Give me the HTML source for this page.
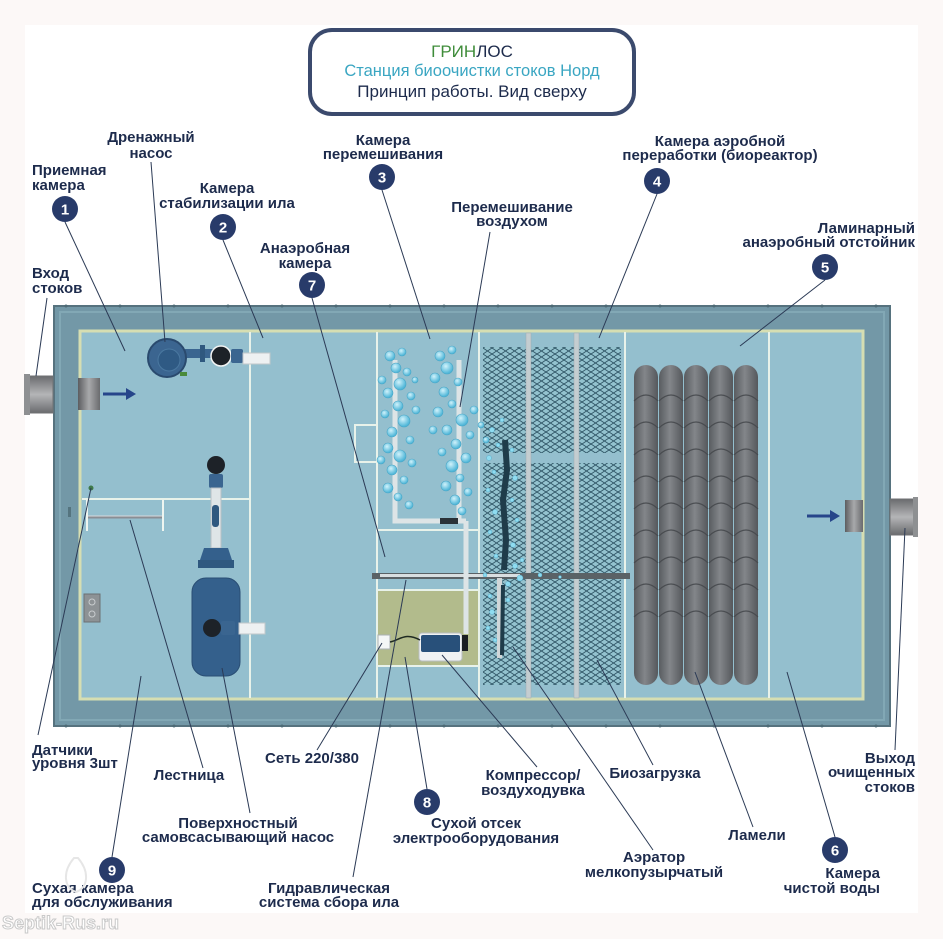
<!DOCTYPE html>
<html><head><meta charset="utf-8">
<style>
html,body{margin:0;padding:0;background:#fcf8f7;}
svg{display:block;}
.t{font-family:"Liberation Sans","Noto Sans CJK SC",sans-serif;font-weight:bold;font-size:15px;fill:#1d2b4c;}
.m{text-anchor:middle;}
.e{text-anchor:end;}
.ld{stroke:#2b3a55;stroke-width:1;fill:none;}
.pt{stroke:#e8f2ea;stroke-width:2;fill:none;}
</style></head>
<body>
<svg width="943" height="939" viewBox="0 0 943 939" xmlns="http://www.w3.org/2000/svg">
<defs>
<pattern id="mesh" x="483" y="0" width="9" height="6" patternUnits="userSpaceOnUse">
<rect width="9" height="6" fill="#93c2ce"/>
<path d="M0 0 L4.5 3 L9 0 M0 6 L4.5 3 L9 6" stroke="#2d5263" stroke-width="0.9" fill="none"/>
</pattern>
<linearGradient id="lam" x1="0" x2="1" y1="0" y2="0">
<stop offset="0" stop-color="#595c60"/><stop offset="0.45" stop-color="#83868a"/><stop offset="1" stop-color="#55585c"/>
</linearGradient>
<linearGradient id="grayp" x1="0" x2="1" y1="0" y2="0">
<stop offset="0" stop-color="#5c5d60"/><stop offset="0.5" stop-color="#a8a9ab"/><stop offset="1" stop-color="#6a6b6e"/>
</linearGradient>
<linearGradient id="grayv" x1="0" x2="0" y1="0" y2="1">
<stop offset="0" stop-color="#6a6b6e"/><stop offset="0.5" stop-color="#b4b5b7"/><stop offset="1" stop-color="#6a6b6e"/>
</linearGradient>
<radialGradient id="bub" cx="0.4" cy="0.35" r="0.6">
<stop offset="0" stop-color="#d0f2fb"/><stop offset="1" stop-color="#4fb6d8"/>
</radialGradient>
</defs>

<rect x="0" y="0" width="943" height="939" fill="#fcf8f7"/>
<rect x="25" y="25" width="893" height="888" fill="#ffffff"/>

<!-- title box -->
<rect x="310" y="30" width="324" height="84" rx="22" ry="22" fill="#ffffff" stroke="#3b4a6d" stroke-width="4"/>
<text x="472" y="57" class="m" style="font-family:'Liberation Sans',sans-serif;font-size:17px;fill:#1d2b4c"><tspan fill="#3f8c3a">ГРИН</tspan>ЛОС</text>
<text x="472" y="76" class="m" style="font-family:'Liberation Sans',sans-serif;font-size:16.5px;fill:#3aa6c2">Станция биоочистки стоков Норд</text>
<text x="472" y="97" class="m" style="font-family:'Liberation Sans',sans-serif;font-size:17px;fill:#1d2b4c">Принцип работы. Вид сверху</text>

<!-- ===== TANK ===== -->
<rect x="54" y="306" width="836" height="420" fill="#7398a7" stroke="#56727e" stroke-width="2"/>
<rect x="60" y="312" width="824" height="408" fill="none" stroke="#82a8b5" stroke-width="2"/>
<g fill="#4d6a75">
<circle cx="66" cy="306" r="1.5"/><circle cx="120" cy="306" r="1.5"/><circle cx="174" cy="306" r="1.5"/><circle cx="228" cy="306" r="1.5"/><circle cx="282" cy="306" r="1.5"/><circle cx="336" cy="306" r="1.5"/><circle cx="390" cy="306" r="1.5"/><circle cx="444" cy="306" r="1.5"/><circle cx="498" cy="306" r="1.5"/><circle cx="552" cy="306" r="1.5"/><circle cx="606" cy="306" r="1.5"/><circle cx="660" cy="306" r="1.5"/><circle cx="714" cy="306" r="1.5"/><circle cx="768" cy="306" r="1.5"/><circle cx="822" cy="306" r="1.5"/><circle cx="876" cy="306" r="1.5"/>
<circle cx="66" cy="726" r="1.5"/><circle cx="120" cy="726" r="1.5"/><circle cx="174" cy="726" r="1.5"/><circle cx="228" cy="726" r="1.5"/><circle cx="282" cy="726" r="1.5"/><circle cx="336" cy="726" r="1.5"/><circle cx="390" cy="726" r="1.5"/><circle cx="444" cy="726" r="1.5"/><circle cx="498" cy="726" r="1.5"/><circle cx="552" cy="726" r="1.5"/><circle cx="606" cy="726" r="1.5"/><circle cx="660" cy="726" r="1.5"/><circle cx="714" cy="726" r="1.5"/><circle cx="768" cy="726" r="1.5"/><circle cx="822" cy="726" r="1.5"/><circle cx="876" cy="726" r="1.5"/>
</g>
<rect x="80" y="331" width="783" height="368" fill="#94bfce" stroke="#d6deb2" stroke-width="3"/>

<rect x="378" y="591" width="100" height="74" fill="#b2bb8c"/>

<rect x="483" y="347" width="138" height="106" fill="url(#mesh)"/>
<rect x="483" y="463" width="138" height="222" fill="url(#mesh)"/>

<g class="pt">
<line x1="250" y1="332" x2="250" y2="698"/>
<line x1="82" y1="499" x2="250" y2="499"/>
<line x1="377" y1="332" x2="377" y2="698"/>
<line x1="377" y1="530" x2="479" y2="530"/>
<line x1="377" y1="590" x2="479" y2="590"/>
<line x1="377" y1="666" x2="479" y2="666"/>
<line x1="479" y1="332" x2="479" y2="698"/>
<line x1="625" y1="332" x2="625" y2="698"/>
<line x1="769" y1="332" x2="769" y2="698"/>
<rect x="355" y="425" width="22" height="37"/>
</g>
<line x1="87" y1="500" x2="87" y2="531" stroke="#eef5f0" stroke-width="2"/>
<line x1="163" y1="500" x2="163" y2="531" stroke="#eef5f0" stroke-width="2"/>
<line x1="88" y1="517" x2="162" y2="517" stroke="#8a8e95" stroke-width="3"/>
<line x1="88" y1="516" x2="162" y2="516" stroke="#d6dadd" stroke-width="1"/>
<circle cx="91" cy="488" r="2.5" fill="#3f7a4a"/>
<rect x="84" y="594" width="16" height="28" fill="#8d9295" stroke="#6b7073"/>
<circle cx="92" cy="602" r="3" fill="none" stroke="#c8ccce"/>
<circle cx="92" cy="614" r="3" fill="none" stroke="#c8ccce"/>
<rect x="68" y="507" width="3" height="10" fill="#55747f"/>

<rect x="526" y="333" width="5" height="365" fill="#c4cdd0" stroke="#a0aab0" stroke-width="0.5"/>
<rect x="574" y="333" width="5" height="365" fill="#c4cdd0" stroke="#a0aab0" stroke-width="0.5"/>
<rect x="372" y="573" width="258" height="6" fill="#5a6266"/>
<rect x="380" y="574" width="140" height="3" fill="#d9dfe1"/>
<path d="M505 440 L507 470 L503 500 L506 540 L504 570" stroke="#1f3c4a" stroke-width="6" fill="none"/>
<rect x="497" y="578" width="5" height="80" fill="#d0d6d8"/>
<path d="M503 585 L502 655" stroke="#1f3c4a" stroke-width="4" fill="none"/>

<g stroke="#dde4e6" stroke-width="5" fill="none">
<path d="M395 360 L395 521 L466 521"/>
<path d="M459 360 L459 521"/>
<path d="M466 521 L466 634"/>
</g>
<rect x="440" y="518" width="18" height="6" fill="#2a3238"/>

<rect x="419" y="633" width="43" height="28" rx="3" fill="#f0f2f3" stroke="#b8bec2"/>
<rect x="421" y="635" width="39" height="17" rx="2" fill="#28507a"/>
<rect x="462" y="635" width="6" height="16" fill="#1a1e22"/>
<rect x="378" y="635" width="12" height="14" fill="#f4f6f6" stroke="#aab0b3"/>
<path d="M390 642 C400 640 405 632 420 640" stroke="#1f2a22" stroke-width="1.5" fill="none"/>

<g fill="url(#bub)" stroke="#4aa6c6" stroke-width="0.6">
<circle cx="390" cy="356" r="5"/><circle cx="402" cy="352" r="4"/><circle cx="396" cy="368" r="5"/><circle cx="407" cy="372" r="4"/><circle cx="400" cy="384" r="6"/><circle cx="388" cy="393" r="5"/><circle cx="411" cy="396" r="4"/><circle cx="398" cy="406" r="5"/><circle cx="385" cy="414" r="4"/><circle cx="404" cy="421" r="6"/><circle cx="392" cy="432" r="5"/><circle cx="410" cy="440" r="4"/><circle cx="388" cy="448" r="5"/><circle cx="400" cy="456" r="6"/><circle cx="412" cy="463" r="4"/><circle cx="392" cy="470" r="5"/><circle cx="404" cy="480" r="4"/><circle cx="388" cy="488" r="5"/><circle cx="398" cy="497" r="4"/><circle cx="409" cy="505" r="4"/><circle cx="382" cy="380" r="4"/><circle cx="416" cy="410" r="4"/><circle cx="381" cy="460" r="4"/><circle cx="415" cy="380" r="3"/>
<circle cx="440" cy="356" r="5"/><circle cx="452" cy="350" r="4"/><circle cx="447" cy="368" r="6"/><circle cx="435" cy="378" r="5"/><circle cx="458" cy="382" r="4"/><circle cx="444" cy="392" r="5"/><circle cx="452" cy="404" r="4"/><circle cx="438" cy="412" r="5"/><circle cx="462" cy="420" r="6"/><circle cx="447" cy="430" r="5"/><circle cx="470" cy="435" r="4"/><circle cx="456" cy="444" r="5"/><circle cx="442" cy="452" r="4"/><circle cx="466" cy="458" r="5"/><circle cx="452" cy="466" r="6"/><circle cx="460" cy="478" r="4"/><circle cx="446" cy="486" r="5"/><circle cx="468" cy="492" r="4"/><circle cx="455" cy="500" r="5"/><circle cx="462" cy="511" r="4"/><circle cx="474" cy="410" r="4"/><circle cx="481" cy="425" r="3"/><circle cx="486" cy="440" r="3"/><circle cx="433" cy="430" r="4"/>
</g>
<g fill="#8fdcf0" stroke="#4aa6c6" stroke-width="0.4">
<circle cx="492" cy="430" r="2.5"/><circle cx="498" cy="445" r="2"/><circle cx="489" cy="458" r="2.5"/><circle cx="512" cy="450" r="2"/><circle cx="494" cy="472" r="2"/><circle cx="515" cy="478" r="2.5"/><circle cx="488" cy="490" r="2"/><circle cx="512" cy="500" r="2"/><circle cx="495" cy="512" r="2.5"/><circle cx="517" cy="520" r="2"/><circle cx="490" cy="532" r="2"/><circle cx="513" cy="545" r="2.5"/><circle cx="496" cy="556" r="2"/><circle cx="515" cy="566" r="2.5"/><circle cx="520" cy="578" r="3"/><circle cx="508" cy="584" r="2.5"/><circle cx="490" cy="596" r="2"/><circle cx="492" cy="612" r="2.5"/><circle cx="488" cy="628" r="2"/><circle cx="495" cy="640" r="2"/><circle cx="508" cy="600" r="2"/><circle cx="485" cy="575" r="2"/><circle cx="522" cy="560" r="2"/><circle cx="540" cy="575" r="2"/><circle cx="560" cy="577" r="1.5"/><circle cx="502" cy="420" r="2"/>
</g>

<g>
<rect x="634" y="365" width="24" height="320" rx="12" fill="url(#lam)"/>
<rect x="659" y="365" width="24" height="320" rx="12" fill="url(#lam)"/>
<rect x="684" y="365" width="24" height="320" rx="12" fill="url(#lam)"/>
<rect x="709" y="365" width="24" height="320" rx="12" fill="url(#lam)"/>
<rect x="734" y="365" width="24" height="320" rx="12" fill="url(#lam)"/>
</g>
<g stroke="#44474b" stroke-width="1.2" fill="none" opacity="0.85">
<path d="M634 401 Q646 389 658 401 M659 401 Q671 389 683 401 M684 401 Q696 389 708 401 M709 401 Q721 389 733 401 M734 401 Q746 389 758 401"/>
<path d="M634 428 Q646 416 658 428 M659 428 Q671 416 683 428 M684 428 Q696 416 708 428 M709 428 Q721 416 733 428 M734 428 Q746 416 758 428"/>
<path d="M634 455 Q646 443 658 455 M659 455 Q671 443 683 455 M684 455 Q696 443 708 455 M709 455 Q721 443 733 455 M734 455 Q746 443 758 455"/>
<path d="M634 482 Q646 470 658 482 M659 482 Q671 470 683 482 M684 482 Q696 470 708 482 M709 482 Q721 470 733 482 M734 482 Q746 470 758 482"/>
<path d="M634 509 Q646 497 658 509 M659 509 Q671 497 683 509 M684 509 Q696 497 708 509 M709 509 Q721 497 733 509 M734 509 Q746 497 758 509"/>
<path d="M634 536 Q646 524 658 536 M659 536 Q671 524 683 536 M684 536 Q696 524 708 536 M709 536 Q721 524 733 536 M734 536 Q746 524 758 536"/>
<path d="M634 563 Q646 551 658 563 M659 563 Q671 551 683 563 M684 563 Q696 551 708 563 M709 563 Q721 551 733 563 M734 563 Q746 551 758 563"/>
<path d="M634 590 Q646 578 658 590 M659 590 Q671 578 683 590 M684 590 Q696 578 708 590 M709 590 Q721 578 733 590 M734 590 Q746 578 758 590"/>
<path d="M634 617 Q646 605 658 617 M659 617 Q671 605 683 617 M684 617 Q696 605 708 617 M709 617 Q721 605 733 617 M734 617 Q746 605 758 617"/>
</g>

<!-- drain pump -->
<rect x="185" y="349" width="32" height="9" fill="#3a6590"/>
<rect x="200" y="345" width="5" height="17" fill="#2f587f"/>
<circle cx="167" cy="358" r="19" fill="#3b6590" stroke="#2a4a6e" stroke-width="2"/>
<circle cx="169" cy="360" r="11" fill="#2f5a84" stroke="#4a78a0" stroke-width="1"/>
<rect x="180" y="372" width="7" height="4" fill="#4a8a3a"/>
<circle cx="221" cy="356" r="10" fill="#1d2228" stroke="#f2f4f4" stroke-width="1.5"/>
<rect x="231" y="349" width="12" height="14" rx="2" fill="#3a6590"/>
<rect x="243" y="353" width="27" height="11" fill="#eef1f2" stroke="#c2c8cb"/>

<!-- surface pump -->
<circle cx="216" cy="465" r="9" fill="#1d2228"/>
<rect x="209" y="474" width="14" height="14" rx="2" fill="#3a6590"/>
<rect x="211" y="488" width="10" height="60" fill="#dfe5e7" stroke="#b7c0c4"/>
<rect x="212" y="505" width="7" height="22" rx="3" fill="#2f587f"/>
<path d="M200 560 L204 548 L228 548 L232 560 Z" fill="#34608c"/>
<rect x="198" y="560" width="36" height="8" fill="#2f587f"/>
<rect x="192" y="578" width="48" height="98" rx="14" fill="#34608c" stroke="#2a4e74"/>
<circle cx="212" cy="628" r="9" fill="#1d2228"/>
<rect x="221" y="621" width="14" height="14" rx="2" fill="#3a6590"/>
<rect x="239" y="623" width="26" height="11" fill="#eef1f2" stroke="#c2c8cb"/>

<!-- inlet -->
<rect x="28" y="376" width="25" height="37" fill="url(#grayv)" stroke="#707274"/>
<rect x="24" y="374" width="6" height="41" fill="#8e9092"/>
<rect x="78" y="378" width="22" height="32" fill="url(#grayp)"/>
<line x1="103" y1="394" x2="128" y2="394" stroke="#26458a" stroke-width="3"/>
<path d="M126 388 L136 394 L126 400 Z" fill="#26458a"/>

<!-- outlet -->
<rect x="845" y="500" width="18" height="32" fill="url(#grayp)"/>
<rect x="890" y="499" width="26" height="36" fill="url(#grayv)" stroke="#707274"/>
<rect x="913" y="497" width="5" height="40" fill="#8e9092"/>
<line x1="807" y1="516" x2="832" y2="516" stroke="#26458a" stroke-width="3"/>
<path d="M830 510 L840 516 L830 522 Z" fill="#26458a"/>

<!-- leader lines -->
<g class="ld">
<line x1="65" y1="222" x2="125" y2="351"/>
<line x1="151" y1="162" x2="165" y2="342"/>
<line x1="223" y1="240" x2="263" y2="338"/>
<line x1="312" y1="298" x2="385" y2="557"/>
<line x1="382" y1="190" x2="430" y2="339"/>
<line x1="490" y1="232" x2="460" y2="407"/>
<line x1="657" y1="194" x2="599" y2="338"/>
<line x1="825" y1="280" x2="740" y2="346"/>
<line x1="47" y1="298" x2="36" y2="376"/>
<line x1="38" y1="735" x2="91" y2="488"/>
<line x1="130" y1="520" x2="203" y2="768"/>
<line x1="222" y1="668" x2="250" y2="813"/>
<line x1="112" y1="857" x2="141" y2="676"/>
<line x1="317" y1="750" x2="382" y2="643"/>
<line x1="353" y1="877" x2="406" y2="580"/>
<line x1="427" y1="789" x2="405" y2="657"/>
<line x1="537" y1="767" x2="442" y2="655"/>
<line x1="653" y1="850" x2="513" y2="647"/>
<line x1="653" y1="765" x2="597" y2="660"/>
<line x1="753" y1="827" x2="695" y2="672"/>
<line x1="835" y1="837" x2="787" y2="672"/>
<line x1="895" y1="750" x2="905" y2="528"/>
</g>

<g fill="#283b6a">
<circle cx="65" cy="209" r="13"/><circle cx="223" cy="227" r="13"/><circle cx="382" cy="177" r="13"/><circle cx="657" cy="181" r="13"/><circle cx="825" cy="267" r="13"/><circle cx="312" cy="285" r="13"/><circle cx="835" cy="850" r="13"/><circle cx="427" cy="802" r="13"/><circle cx="112" cy="870" r="13"/>
</g>
<g style="font-family:'Liberation Sans',sans-serif;font-weight:bold;font-size:15px;fill:#ffffff;text-anchor:middle">
<text x="65" y="214.5">1</text><text x="223" y="232.5">2</text><text x="382" y="182.5">3</text><text x="657" y="186.5">4</text><text x="825" y="272.5">5</text><text x="312" y="290.5">7</text><text x="835" y="855.5">6</text><text x="427" y="807.5">8</text><text x="112" y="875.5">9</text>
</g>

<g class="t">
<text x="151" y="142" class="m">Дренажный</text>
<text x="151" y="158" class="m">насос</text>
<text x="32" y="175">Приемная</text>
<text x="32" y="190">камера</text>
<text x="227" y="193" class="m">Камера</text>
<text x="227" y="208" class="m">стабилизации ила</text>
<text x="305" y="253" class="m">Анаэробная</text>
<text x="305" y="268" class="m">камера</text>
<text x="32" y="278">Вход</text>
<text x="32" y="293">стоков</text>
<text x="383" y="145" class="m">Камера</text>
<text x="383" y="159" class="m">перемешивания</text>
<text x="512" y="212" class="m">Перемешивание</text>
<text x="512" y="226" class="m">воздухом</text>
<text x="720" y="146" class="m">Камера аэробной</text>
<text x="720" y="160" class="m">переработки (биореактор)</text>
<text x="915" y="233" class="e">Ламинарный</text>
<text x="915" y="247" class="e">анаэробный отстойник</text>

<text x="32" y="755">Датчики</text>
<text x="32" y="768">уровня 3шт</text>
<text x="189" y="780" class="m">Лестница</text>
<text x="312" y="763" class="m">Сеть 220/380</text>
<text x="238" y="828" class="m">Поверхностный</text>
<text x="238" y="842" class="m">самовсасывающий насос</text>
<text x="32" y="893">Сухая камера</text>
<text x="32" y="907">для обслуживания</text>
<text x="329" y="893" class="m">Гидравлическая</text>
<text x="329" y="907" class="m">система сбора ила</text>
<text x="476" y="828" class="m">Сухой отсек</text>
<text x="476" y="843" class="m">электрооборудования</text>
<text x="533" y="780" class="m">Компрессор/</text>
<text x="533" y="795" class="m">воздуходувка</text>
<text x="655" y="778" class="m">Биозагрузка</text>
<text x="654" y="862" class="m">Аэратор</text>
<text x="654" y="877" class="m">мелкопузырчатый</text>
<text x="757" y="840" class="m">Ламели</text>
<text x="880" y="878" class="e">Камера</text>
<text x="880" y="893" class="e">чистой воды</text>
<text x="915" y="763" class="e">Выход</text>
<text x="915" y="777" class="e">очищенных</text>
<text x="915" y="792" class="e">стоков</text>
</g>

<text x="2" y="929" style="font-family:'Liberation Sans',sans-serif;font-weight:bold;font-size:18px;fill:#ffffff;stroke:#c9c9c9;stroke-width:1">Septik-Rus.ru</text>
<path d="M74 858 C62 872 64 888 76 892 C88 888 90 872 78 858 Z" fill="none" stroke="#e6e6e6" stroke-width="2"/>
</svg>
</body></html>
